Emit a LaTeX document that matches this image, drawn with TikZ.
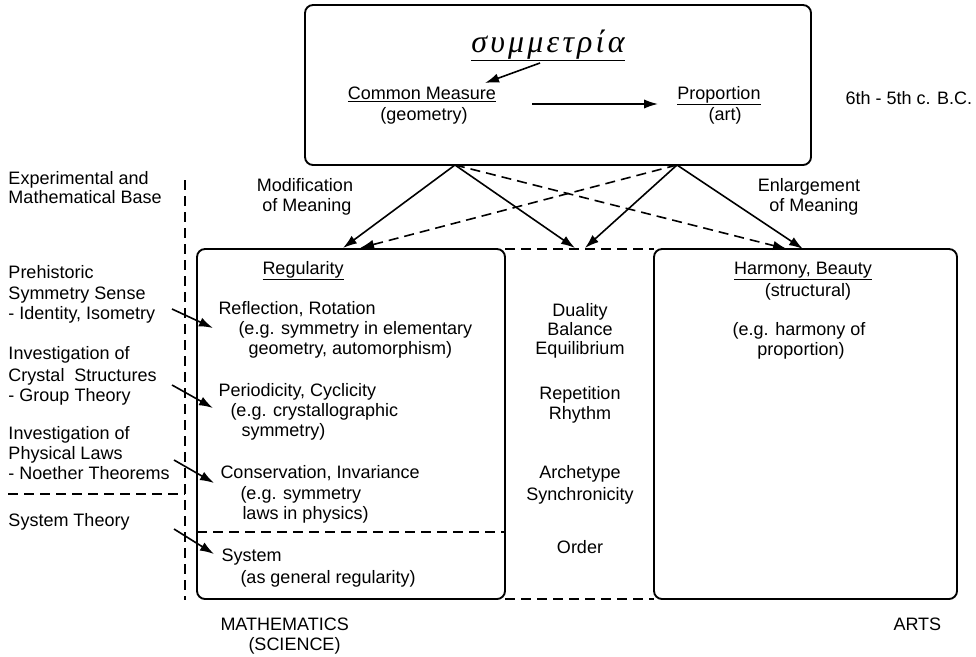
\documentclass[tikz,border=0pt]{standalone}
\usepackage{fontspec}
\setmainfont{Liberation Sans}
\newfontfamily\greekfont[Script=Greek,LetterSpace=10]{Liberation Serif}
\usetikzlibrary{arrows.meta}
\tikzset{every picture/.style={line width=0.75pt}}
\newcommand\txtsize{\fontsize{13.5}{15}\selectfont}
\tikzset{
  box/.style={draw, line width=1.4pt, rounded corners=6pt},
  txt/.style={font=\txtsize, inner sep=0pt},
  arr/.style={-{Latex[length=10.5pt,width=7pt]}, line width=1.2pt},
  dsh/.style={dash pattern=on 7.5pt off 4.5pt, line width=1.2pt},
}

\begin{document}
\begin{tikzpicture}[x=0.75pt,y=0.75pt,yscale=-1,xscale=1]
	\useasboundingbox (0,0) rectangle (976,657);

	%Shape: Rectangle [top box]
	\draw[box] (305,5) rectangle (811,165);
	%Shape: Rectangle [regularity]
	\draw[box] (197,249) rectangle (505,599);
	%Shape: Rectangle [harmony]
	\draw[box] (654,249) rectangle (957,599);

	%Dashed Lines
	\draw[dsh] (185,180) -- (185,600);
	\draw[dsh] (8,494) -- (185,494);
	\draw[dsh] (197,532) -- (505,532);
	\draw[dsh] (505,249) -- (654,249);
	\draw[dsh] (505,599) -- (654,599);

	%Points
	\coordinate (mA) at (455,165);
	\coordinate (mB) at (677,165);
	\coordinate (rA) at (343,248);
	\coordinate (rB) at (360,248);
	\coordinate (oA) at (575,248);
	\coordinate (oB) at (585,248);
	\coordinate (hA) at (787,249);
	\coordinate (hB) at (803,249);
	\coordinate (g1) at (540,63);
	\coordinate (g2) at (485,83);
	\coordinate (p1) at (532,104);
	\coordinate (p2) at (658,104);

	%Arrows from top box
	\draw[arr] (mA) -- (rA);
	\draw[arr] (mA) -- (oA);
	\draw[arr, dsh] (mA) -- (hA);
	\draw[arr, dsh] (mB) -- (rB);
	\draw[arr] (mB) -- (oB);
	\draw[arr] (mB) -- (hB);
	\draw[arr] (g1) -- (g2);
	\draw[arr] (p1) -- (p2);

	%Arrows from the left
	\coordinate (s1) at (172,309); \coordinate (e1) at (213,328);
	\coordinate (s2) at (172,385); \coordinate (e2) at (213,408);
	\coordinate (s3) at (174,460); \coordinate (e3) at (214,483);
	\coordinate (s4) at (174,529); \coordinate (e4) at (214,554);
	\draw[arr] (s1) -- (e1);
	\draw[arr] (s2) -- (e2);
	\draw[arr] (s3) -- (e3);
	\draw[arr] (s4) -- (e4);

	% Text Node
	\node[inner sep=0pt, anchor=base, font=\greekfont\itshape\fontsize{24}{28}\selectfont] (sym) at (548,52) {\underline{συμμετρία}};
	% Text Node
	\node[txt, anchor=base] (cm) at (422,99) {\underline{Common Measure}};
	\node[txt, anchor=base] (geo) at (424,120) {(geometry)};
	\node[txt, anchor=base] (pr) at (719,99) {\underline{Proportion}};
	\node[txt, anchor=base] (art) at (725,120) {(art)};
	\node[txt, anchor=base west] (bc) at (845,104) {6th - 5th c. B.C.};
	% Text Node
	\node[txt, anchor=base] (mod1) at (305,191) {Modification};
	\node[txt, anchor=base] (mod2) at (307,211) {of Meaning};
	\node[txt, anchor=base] (enl1) at (809,191) {Enlargement};
	\node[txt, anchor=base] (enl2) at (814,211) {of Meaning};
	% Text Node
	\node[txt, anchor=base west] (exp1) at (8,184) {Experimental and};
	\node[txt, anchor=base west] (exp2) at (8,203) {Mathematical Base};
	\node[txt, anchor=base west] (pre1) at (8,278) {Prehistoric};
	\node[txt, anchor=base west] (pre2) at (8,299) {Symmetry Sense};
	\node[txt, anchor=base west] (pre3) at (8,319) {- Identity, Isometry};
	\node[txt, anchor=base west] (cry1) at (8,359) {Investigation of};
	\node[txt, anchor=base west] (cry2) at (8,381) {Crystal\ \ Structures};
	\node[txt, anchor=base west] (cry3) at (8,401) {- Group Theory};
	\node[txt, anchor=base west] (phy1) at (8,439) {Investigation of};
	\node[txt, anchor=base west] (phy2) at (8,459) {Physical Laws};
	\node[txt, anchor=base west] (phy3) at (8,479) {- Noether Theorems};
	\node[txt, anchor=base west] (sys) at (8,526) {System Theory};
	% Text Node
	\node[txt, anchor=base west] (reg) at (262,274) {\underline{Regularity}};
	\node[txt, anchor=base west] (ref1) at (218,314) {Reflection, Rotation};
	\node[txt, anchor=base west] (ref2) at (238,334) {(e.g. symmetry in elementary};
	\node[txt, anchor=base west] (ref3) at (248,354) {geometry, automorphism)};
	\node[txt, anchor=base west] (per1) at (218,396) {Periodicity, Cyclicity};
	\node[txt, anchor=base west] (per2) at (230,416) {(e.g. crystallographic};
	\node[txt, anchor=base west] (per3) at (241,436) {symmetry)};
	\node[txt, anchor=base west] (con1) at (220,478) {Conservation, Invariance};
	\node[txt, anchor=base west] (con2) at (240,499) {(e.g. symmetry};
	\node[txt, anchor=base west] (con3) at (242,519) {laws in physics)};
	\node[txt, anchor=base west] (sy1) at (221,561) {System};
	\node[txt, anchor=base west] (sy2) at (240,583) {(as general regularity)};
	\node[txt, anchor=base west] (math1) at (220,630) {MATHEMATICS};
	\node[txt, anchor=base west] (math2) at (248,650) {(SCIENCE)};
	% Text Node
	\node[txt, anchor=base] (du) at (580,316) {Duality};
	\node[txt, anchor=base] (ba) at (580,335) {Balance};
	\node[txt, anchor=base] (eq) at (580,354) {Equilibrium};
	\node[txt, anchor=base] (rep) at (580,399) {Repetition};
	\node[txt, anchor=base] (rh) at (580,419) {Rhythm};
	\node[txt, anchor=base] (arc) at (580,478) {Archetype};
	\node[txt, anchor=base] (syn) at (580,500) {Synchronicity};
	\node[txt, anchor=base] (ord) at (580,553) {Order};
	% Text Node
	\node[txt, anchor=base] (har) at (803,274) {\underline{Harmony, Beauty}};
	\node[txt, anchor=base] (str) at (808,296) {(structural)};
	\node[txt, anchor=base] (hp1) at (799,335) {(e.g. harmony of};
	\node[txt, anchor=base] (hp2) at (801,355) {proportion)};
	\node[txt, anchor=base west] (arts) at (893,630) {ARTS};
\end{tikzpicture}
\end{document}
